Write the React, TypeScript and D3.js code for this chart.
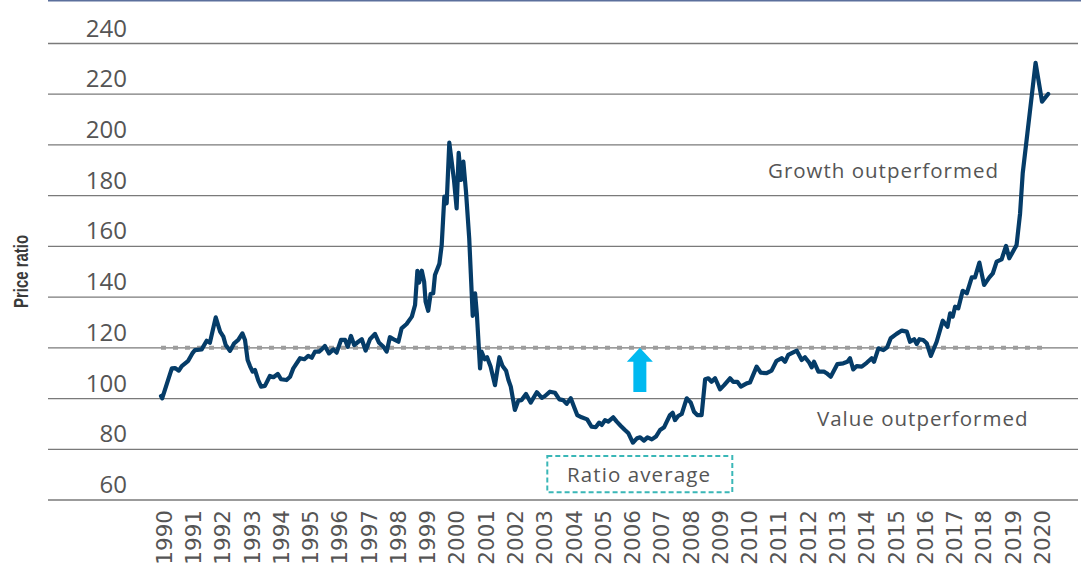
import React from 'react';
import * as d3 from 'd3';

// Growth / value price ratio: [decimal year, ratio]
const ratioSeries: [number, number][] = [
  [1990.00, 101.0], [1990.04, 100.1], [1990.37, 111.9], [1990.48, 112.0], [1990.61, 111.0],
  [1990.71, 112.8], [1990.93, 114.9], [1991.07, 117.8], [1991.16, 119.1], [1991.39, 119.4],
  [1991.56, 122.8], [1991.67, 122.0], [1991.87, 132.0], [1992.02, 126.4], [1992.13, 124.4],
  [1992.21, 121.1], [1992.36, 118.8], [1992.50, 121.8], [1992.64, 123.1], [1992.78, 125.7],
  [1992.87, 123.1], [1992.96, 115.2], [1993.04, 112.8], [1993.13, 110.6], [1993.21, 111.3],
  [1993.32, 107.3], [1993.42, 104.7], [1993.55, 105.0], [1993.72, 108.9], [1993.84, 108.4],
  [1993.99, 109.7], [1994.10, 107.6], [1994.29, 107.3], [1994.41, 108.6], [1994.52, 111.9],
  [1994.75, 115.9], [1994.90, 115.5], [1995.03, 116.8], [1995.15, 116.1], [1995.26, 118.5],
  [1995.40, 118.5], [1995.49, 119.4], [1995.60, 120.7], [1995.74, 117.8], [1995.89, 119.4],
  [1996.00, 118.1], [1996.15, 123.1], [1996.29, 123.1], [1996.38, 120.4], [1996.49, 124.7],
  [1996.60, 121.1], [1996.74, 122.4], [1996.86, 123.4], [1996.99, 118.9], [1997.14, 123.4],
  [1997.31, 125.5], [1997.45, 122.0], [1997.60, 120.4], [1997.71, 118.5], [1997.82, 124.2],
  [1997.99, 123.1], [1998.11, 122.4], [1998.22, 127.7], [1998.39, 129.4], [1998.57, 132.3],
  [1998.68, 136.9], [1998.76, 150.4], [1998.82, 145.7], [1998.91, 150.4], [1998.99, 146.1],
  [1999.04, 138.2], [1999.13, 134.6], [1999.21, 141.2], [1999.30, 141.5], [1999.36, 148.7],
  [1999.51, 153.1], [1999.59, 160.5], [1999.68, 179.6], [1999.76, 177.0], [1999.85, 200.9],
  [2000.01, 186.2], [2000.10, 175.0], [2000.17, 196.9], [2000.25, 186.2], [2000.33, 193.4],
  [2000.42, 181.6], [2000.53, 163.2], [2000.65, 132.6], [2000.73, 141.5], [2000.79, 133.6],
  [2000.90, 111.9], [2000.95, 118.5], [2001.06, 115.5], [2001.14, 116.3], [2001.26, 112.6],
  [2001.41, 105.3], [2001.56, 116.3], [2001.67, 112.8], [2001.79, 111.0], [2001.87, 107.3],
  [2001.95, 104.7], [2002.09, 95.5], [2002.21, 99.2], [2002.32, 99.4], [2002.47, 101.8],
  [2002.63, 98.4], [2002.84, 102.5], [2003.01, 100.3], [2003.12, 101.0], [2003.29, 102.7],
  [2003.46, 102.3], [2003.61, 99.7], [2003.74, 99.4], [2003.86, 97.9], [2004.00, 100.1],
  [2004.11, 96.8], [2004.22, 93.5], [2004.37, 92.6], [2004.56, 91.8], [2004.71, 88.9],
  [2004.85, 88.7], [2004.97, 90.5], [2005.06, 89.6], [2005.17, 91.5], [2005.28, 90.9],
  [2005.45, 92.6], [2005.57, 90.9], [2005.71, 89.2], [2005.85, 87.6], [2005.97, 86.3],
  [2006.12, 82.6], [2006.26, 84.3], [2006.37, 84.7], [2006.50, 83.4], [2006.62, 84.7],
  [2006.77, 83.9], [2006.91, 85.0], [2007.05, 87.6], [2007.19, 88.7], [2007.28, 90.9],
  [2007.39, 93.5], [2007.48, 94.4], [2007.56, 91.5], [2007.67, 93.1], [2007.79, 93.9],
  [2007.96, 100.1], [2008.10, 98.4], [2008.21, 94.8], [2008.32, 93.5], [2008.47, 93.5],
  [2008.59, 107.6], [2008.70, 108.0], [2008.81, 106.6], [2008.93, 108.0], [2009.10, 103.6],
  [2009.24, 105.3], [2009.44, 108.0], [2009.55, 106.6], [2009.69, 106.6], [2009.81, 104.7],
  [2010.01, 106.0], [2010.12, 106.3], [2010.35, 112.6], [2010.49, 110.2], [2010.69, 110.0],
  [2010.86, 111.0], [2011.03, 114.9], [2011.21, 115.9], [2011.32, 114.5], [2011.43, 117.2],
  [2011.72, 118.9], [2011.89, 115.2], [2012.00, 116.3], [2012.15, 114.1], [2012.23, 112.3],
  [2012.31, 114.5], [2012.46, 110.6], [2012.65, 110.6], [2012.74, 110.0], [2012.88, 108.6],
  [2013.11, 113.6], [2013.31, 113.9], [2013.45, 114.5], [2013.54, 115.9], [2013.65, 111.5],
  [2013.77, 112.8], [2013.94, 112.6], [2014.11, 114.1], [2014.28, 115.9], [2014.36, 114.5],
  [2014.51, 119.8], [2014.68, 119.1], [2014.81, 120.2], [2014.93, 123.8], [2015.13, 125.5],
  [2015.31, 126.8], [2015.48, 126.4], [2015.59, 122.4], [2015.73, 123.4], [2015.82, 121.5],
  [2015.91, 123.4], [2016.04, 123.1], [2016.16, 121.8], [2016.30, 116.8], [2016.50, 122.4],
  [2016.71, 130.7], [2016.87, 128.3], [2016.96, 133.6], [2017.05, 132.3], [2017.13, 136.2],
  [2017.24, 135.6], [2017.39, 142.5], [2017.53, 141.5], [2017.70, 147.8], [2017.81, 147.8],
  [2017.96, 153.6], [2018.12, 144.8], [2018.30, 147.8], [2018.42, 149.4], [2018.55, 154.0],
  [2018.72, 154.9], [2018.87, 160.2], [2018.98, 155.3], [2019.23, 160.5], [2019.35, 173.0],
  [2019.44, 188.8], [2019.60, 204.6], [2019.88, 232.4], [2020.10, 217.1], [2020.31, 220.1],
];

const yTicks = [60, 80, 100, 120, 140, 160, 180, 200, 220, 240];
const yearLabels = [
  '1990', '1991', '1992', '1993', '1994', '1995', '1996', '1997', '1998', '1999', '2000',
  '2001', '2002', '2003', '2004', '2005', '2006', '2007', '2008', '2009', '2010',
  '2011', '2012', '2013', '2014', '2015', '2016', '2017', '2018', '2019', '2020',
];
const ratioAverage = 120;
const arrowYear = 2006.36;
const arrowFrom = 102.6;
const axisTitle = 'Price ratio';
const growthLabel = 'Growth outperformed';
const valueLabel = 'Value outperformed';
const averageLabel = 'Ratio average';

const LABEL_FONT = "'Open Sans', sans-serif";

export default function App() {
  const W = 1081;
  const H = 567;
  const x = d3.scaleLinear().domain([1990, 2020]).range([161, 1039.1]);
  const y = d3.scaleLinear().domain([60, 240]).range([500, 43.5]);
  const line = d3
    .line<[number, number]>()
    .x((d) => x(d[0]))
    .y((d) => y(d[1]));

  const lastYear = ratioSeries[ratioSeries.length - 1][0];
  const ax = x(arrowYear);
  const tipY = y(ratioAverage);
  const baseY = y(arrowFrom);
  const headH = 14;
  const headW = 13;
  const shaftW = 6.5;
  const arrowPts = [
    [ax, tipY],
    [ax + headW, tipY + headH],
    [ax + shaftW, tipY + headH],
    [ax + shaftW, baseY],
    [ax - shaftW, baseY],
    [ax - shaftW, tipY + headH],
    [ax - headW, tipY + headH],
  ]
    .map((p) => p.join(','))
    .join(' ');

  return (
    <svg
      width={W}
      height={H}
      viewBox={`0 0 ${W} ${H}`}
      style={{ position: 'absolute', left: 0, top: 0, background: '#fff' }}
    >
      <rect x={0} y={0} width={W} height={H} fill="#fff" />
      <line x1={48} x2={W} y1={0.75} y2={0.75} stroke="#5b6f9c" strokeWidth={1.5} />
      {yTicks.map((t) => (
        <g key={t}>
          <line x1={48} x2={1078} y1={y(t)} y2={y(t)} stroke="#7a7a7a" strokeWidth={1.3} />
          <text
            x={127}
            y={y(t) - 7}
            textAnchor="end"
            fontFamily={LABEL_FONT}
            fontSize={24}
            fill="#555"
          >
            {t}
          </text>
        </g>
      ))}
      <line
        x1={x(1990)}
        x2={x(lastYear)}
        y1={y(ratioAverage)}
        y2={y(ratioAverage)}
        stroke="#9d9d9d"
        strokeWidth={4}
        strokeDasharray="5 7"
      />
      <path
        d={line(ratioSeries) || ''}
        fill="none"
        stroke="#053c68"
        strokeWidth={4.2}
        strokeLinejoin="round"
        strokeLinecap="round"
      />
      <polygon points={arrowPts} fill="#00b9f0" />
      {yearLabels.map((lab) => {
        const cx = x(+lab) + 3;
        return (
          <text
            key={lab}
            transform={`translate(${cx},510) rotate(-90)`}
            textAnchor="end"
            dy="0.36em"
            fontFamily="'DejaVu Sans', sans-serif"
            fontSize={21.5}
            fill="#555"
          >
            {lab}
          </text>
        );
      })}
      <text
        transform={`translate(28,271.5) rotate(-90)`}
        textAnchor="middle"
        fontFamily="'Liberation Sans Narrow', 'Arial Narrow', 'Liberation Sans', sans-serif"
        fontWeight="bold"
        fontSize={21}
        textLength={73}
        lengthAdjust="spacingAndGlyphs"
        fill="#3a3a3a"
      >
        {axisTitle}
      </text>
      <text x={768} y={178} fontFamily={LABEL_FONT} fontSize={20.5} letterSpacing={1} fill="#555">
        {growthLabel}
      </text>
      <text x={817} y={426} fontFamily={LABEL_FONT} fontSize={20.5} letterSpacing={1} fill="#555">
        {valueLabel}
      </text>
      <rect
        x={547.3}
        y={456}
        width={185}
        height={36.3}
        fill="none"
        stroke="#3ab7b7"
        strokeWidth={2}
        strokeDasharray="5 3"
      />
      <text x={567} y={482} fontFamily={LABEL_FONT} fontSize={20.5} letterSpacing={1.1} fill="#555">
        {averageLabel}
      </text>
    </svg>
  );
}
